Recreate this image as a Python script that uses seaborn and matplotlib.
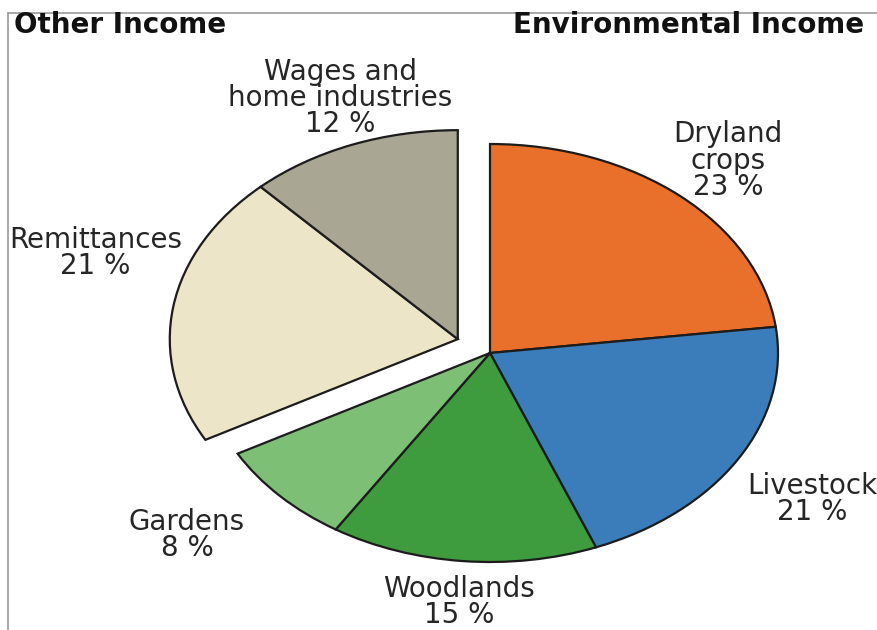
import matplotlib
matplotlib.use("Agg")
import matplotlib.pyplot as plt
import seaborn as sns
import numpy as np
from matplotlib.lines import Line2D

# ---- data ----
env_names = ["Dryland\ncrops", "Livestock", "Woodlands", "Gardens"]
env_values = [23, 21, 15, 8]
other_names = ["Remittances", "Wages and\nhome industries"]
other_values = [21, 12]
group_titles = ["Other Income", "Environmental Income"]

# ---- style ----
sns.set_theme(style="white")
plt.rcParams["font.family"] = ["DejaVu Sans"]
env_colors = sns.color_palette(["#E8702A", "#3A7DBA", "#3E9C3E", "#7DBF75"])
other_colors = sns.color_palette(["#EDE5C8", "#A9A694"])

W, H = 877, 630
fig = plt.figure(figsize=(W / 100, H / 100), dpi=100)
ax = fig.add_axes([0, 0, 1, 1])

edge = dict(edgecolor="#1c1c1c", linewidth=1.6)

total = sum(env_values) + sum(other_values)
env_frac = [v / total for v in env_values]
other_frac = [v / total for v in other_values]

ax.pie(env_frac, colors=env_colors, startangle=90, counterclock=False,
       normalize=False, wedgeprops=edge, radius=1.0)

# exploded "Other Income" group
start2 = 90 - 360 * sum(env_frac)
mid2 = np.deg2rad(start2 - 180 * sum(other_frac))
explode = 0.13
ax.pie(other_frac, colors=other_colors, startangle=start2, counterclock=False,
       normalize=False, wedgeprops=edge, radius=1.0,
       center=(explode * np.cos(mid2), explode * np.sin(mid2)))

# elliptical look: independent x / y scale
cx_px, cy_px = 490, 353
rx_px, ry_px = 288, 209
ax.set_aspect("auto")
ax.set_xlim(-cx_px / rx_px, (W - cx_px) / rx_px)
ax.set_ylim(-(H - cy_px) / ry_px, cy_px / ry_px)
ax.axis("off")

# labels (layout positions in data units)
label_pos_env = [(0.826, 0.92), (1.118, -0.70), (-0.108, -1.19), (-1.052, -0.87)]
label_pos_other = [(-1.37, 0.48), (-0.52, 1.22)]
tkw = dict(ha="center", va="center", fontsize=20, color="#262626", linespacing=0.92)
for name, v, (x, y) in zip(env_names, env_values, label_pos_env):
    ax.text(x, y, f"{name}\n{v} %", **tkw)
for name, v, (x, y) in zip(other_names, other_values, label_pos_other):
    ax.text(x, y, f"{name}\n{v} %", **tkw)

# headers
fig.text(14 / W, 1 - 33 / H, group_titles[0], ha="left", va="baseline",
         fontsize=20, fontweight="bold", color="#111111")
fig.text(864 / W, 1 - 33 / H, group_titles[1], ha="right", va="baseline",
         fontsize=20, fontweight="bold", color="#111111")

# thin frame lines (top and left)
fig.add_artist(Line2D([8 / W, 1], [1 - 13 / H, 1 - 13 / H], transform=fig.transFigure,
                      color="#9a9a9a", linewidth=1.2))
fig.add_artist(Line2D([8 / W, 8 / W], [0, 1 - 13 / H], transform=fig.transFigure,
                      color="#9a9a9a", linewidth=1.2))

fig.savefig("out.png", dpi=100, facecolor="white")
